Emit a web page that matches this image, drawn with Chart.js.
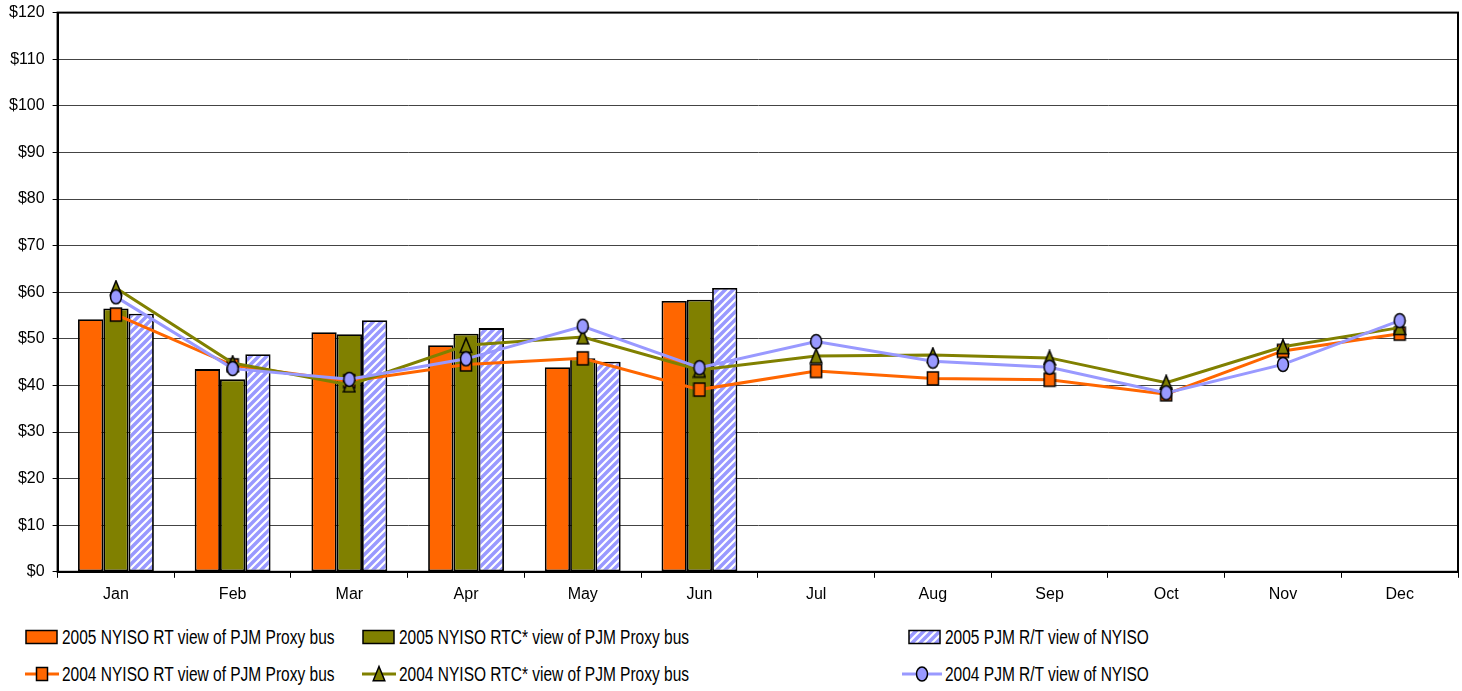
<!DOCTYPE html>
<html>
<head>
<meta charset="utf-8">
<script src="https://cdn.jsdelivr.net/npm/chart.js@4.4.0/dist/chart.umd.min.js"></script>
<style>
  body { margin: 0; background: #fff; font-family: "Liberation Sans", Arial, sans-serif; }
  #wrap { position: relative; width: 1462px; height: 691px; overflow: hidden; }
  #chart { position: absolute; left: 0; top: -5px; }
  .leg { position: absolute; height: 20px; display: flex; align-items: center; white-space: nowrap; font-size: 15.5px; color: #000; }
  .leg svg { margin-right: 3px; flex: none; }
  .leg span { display: inline-block; transform: scaleY(1.35); }
</style>
</head>
<body>
<div id="wrap">
  <canvas id="chart" width="1468" height="616"></canvas>
  <div id="legend"></div>
</div>
<script>
// Donnees ($/MWh)
const months = ['Jan', 'Feb', 'Mar', 'Apr', 'May', 'Jun', 'Jul', 'Aug', 'Sep', 'Oct', 'Nov', 'Dec'];
const yTicks = [0, 10, 20, 30, 40, 50, 60, 70, 80, 90, 100, 110, 120];

const rt2005  = [54.2, 43.5, 51.4, 48.6, 43.9, 58.1];
const rtc2005 = [56.5, 41.3, 51.0, 51.1, 45.8, 58.4];
const pjm2005 = [55.4, 46.7, 54.0, 52.3, 45.1, 60.9];

const rt2004  = [55.2, 44.3, 40.9, 44.5, 45.8, 39.1, 43.1, 41.5, 41.2, 38.1, 47.4, 51.1];
const rtc2004 = [60.9, 44.8, 40.1, 48.6, 50.4, 43.3, 46.3, 46.5, 45.9, 40.6, 48.3, 52.4];
const pjm2004 = [59.0, 43.6, 41.3, 45.7, 52.7, 43.8, 49.4, 45.2, 43.9, 38.4, 44.5, 53.9];

const ORANGE = '#FF6600';
const OLIVE = '#808000';
const BLUE = '#9999FF';

// Motif hachure pour les barres PJM
function makeHatch() {
    const c = document.createElement('canvas');
    c.width = 8; c.height = 8;
    const g = c.getContext('2d');
    g.fillStyle = BLUE;
    g.fillRect(0, 0, 8, 8);
    g.strokeStyle = '#fff';
    g.lineWidth = 2.2;
    g.beginPath();
    g.moveTo(-1, 9); g.lineTo(9, -1);
    g.moveTo(-1, 1); g.lineTo(1, -1);
    g.moveTo(7, 9); g.lineTo(9, 7);
    g.stroke();
    return g.createPattern(c, 'repeat');
}

// Marqueurs (un peu plus hauts que larges, comme sur l'original)
function makeMarker(shape, fill) {
    const c = document.createElement('canvas');
    c.width = 14; c.height = 17;
    const g = c.getContext('2d');
    g.fillStyle = fill;
    g.strokeStyle = '#000';
    g.lineWidth = 1.5;
    g.beginPath();
    if (shape === 'rect') {
        g.rect(1.5, 2, 11, 13);
    } else if (shape === 'tri') {
        g.moveTo(7, 1.2); g.lineTo(12.8, 15.5); g.lineTo(1.2, 15.5); g.closePath();
    } else {
        g.ellipse(7, 8.5, 5.5, 7, 0, 0, Math.PI * 2);
    }
    g.fill();
    g.stroke();
    return c;
}

const framePlugin = {
    id: 'frame',
    beforeDatasetsDraw(chart) {
        const a = chart.chartArea;
        const ctx = chart.ctx;
        ctx.save();
        ctx.strokeStyle = '#000';
        ctx.lineWidth = 2;
        ctx.strokeRect(a.left, a.top, a.right - a.left, a.bottom - a.top);
        ctx.restore();
    }
};

const hatch = makeHatch();

function barSet(label, data, bg) {
    return { type: 'bar', label, data, backgroundColor: bg, borderColor: '#000', borderWidth: 1.8, borderSkipped: false, order: 10 };
}
function lineSet(label, data, color, marker, order) {
    return {
        type: 'line', label, data, borderColor: color, backgroundColor: color, borderWidth: 3,
        pointStyle: marker, pointRadius: 7, tension: 0, order
    };
}

new Chart(document.getElementById('chart').getContext('2d'), {
    data: {
        labels: months,
        datasets: [
            barSet('2005 NYISO RT view of PJM Proxy bus', rt2005, ORANGE),
            barSet('2005 NYISO RTC* view of PJM Proxy bus', rtc2005, OLIVE),
            barSet('2005 PJM R/T view of NYISO', pjm2005, hatch),
            lineSet('2004 NYISO RT view of PJM Proxy bus', rt2004, ORANGE, makeMarker('rect', ORANGE), 3),
            lineSet('2004 NYISO RTC* view of PJM Proxy bus', rtc2004, OLIVE, makeMarker('tri', OLIVE), 2),
            lineSet('2004 PJM R/T view of NYISO', pjm2004, BLUE, makeMarker('circle', BLUE), 1)
        ]
    },
    options: {
        responsive: false,
        animation: false,
        layout: { padding: { top: 6, left: 1, right: 0, bottom: 0 } },
        datasets: { bar: { categoryPercentage: 0.65, barPercentage: 1 } },
        plugins: { legend: { display: false }, tooltip: { enabled: false } },
        scales: {
            x: {
                offset: true,
                grid: { offset: true, drawOnChartArea: false, drawTicks: true, tickLength: 6, tickColor: '#000' },
                border: { color: '#000', width: 2 },
                ticks: { color: '#000', padding: 7, font: { family: 'Liberation Sans', size: 16 } }
            },
            y: {
                min: 0, max: 120,
                afterBuildTicks(axis) { axis.ticks = yTicks.map(v => ({ value: v })); },
                grid: { color: '#444', lineWidth: 1, tickLength: 5, tickColor: '#000' },
                border: { color: '#000', width: 2 },
                ticks: { color: '#000', padding: 8, font: { family: 'Liberation Sans', size: 16 }, callback: v => '$' + v }
            }
        }
    },
    plugins: [framePlugin]
});

// Legende HTML sur deux lignes, trois colonnes
const legendItems = [
    { text: '2005 NYISO RT view of PJM Proxy bus', kind: 'bar', fill: ORANGE, x: 25, y: 627 },
    { text: '2005 NYISO RTC* view of PJM Proxy bus', kind: 'bar', fill: OLIVE, x: 362, y: 627 },
    { text: '2005 PJM R/T view of NYISO', kind: 'hatch', fill: BLUE, x: 908, y: 627 },
    { text: '2004 NYISO RT view of PJM Proxy bus', kind: 'rect', fill: ORANGE, x: 25, y: 664 },
    { text: '2004 NYISO RTC* view of PJM Proxy bus', kind: 'tri', fill: OLIVE, x: 362, y: 664 },
    { text: '2004 PJM R/T view of NYISO', kind: 'circle', fill: BLUE, x: 902, y: 664 }
];

function swatchSvg(item) {
    const w = item.kind === 'circle' ? 40 : 34;
    let inner = '';
    if (item.kind === 'bar') {
        inner = `<rect x="1" y="3.5" width="31" height="13" fill="${item.fill}" stroke="#000" stroke-width="1.5"/>`;
    } else if (item.kind === 'hatch') {
        inner = `<defs><pattern id="hp" width="8" height="8" patternUnits="userSpaceOnUse">
            <rect width="8" height="8" fill="${BLUE}"/>
            <path d="M-1,9 L9,-1 M-1,1 L1,-1 M7,9 L9,7" stroke="#fff" stroke-width="2.2"/></pattern></defs>
            <rect x="1" y="3.5" width="31" height="13" fill="url(#hp)" stroke="#000" stroke-width="1.5"/>`;
    } else {
        const cx = w / 2;
        inner = `<line x1="0" y1="10" x2="${w}" y2="10" stroke="${item.fill}" stroke-width="3"/>`;
        if (item.kind === 'rect') {
            inner += `<rect x="${cx - 5.5}" y="3.5" width="11" height="13" fill="${item.fill}" stroke="#000" stroke-width="1.5"/>`;
        } else if (item.kind === 'tri') {
            inner += `<path d="M${cx},2.5 L${cx + 5.8},16.8 L${cx - 5.8},16.8 Z" fill="${item.fill}" stroke="#000" stroke-width="1.5"/>`;
        } else {
            inner += `<ellipse cx="${cx}" cy="10" rx="5.5" ry="7" fill="${item.fill}" stroke="#000" stroke-width="1.5"/>`;
        }
    }
    return `<svg width="${w}" height="20" viewBox="0 0 ${w} 20">${inner}</svg>`;
}

const legendBox = document.getElementById('legend');
legendItems.forEach(item => {
    const div = document.createElement('div');
    div.className = 'leg';
    div.style.left = item.x + 'px';
    div.style.top = item.y + 'px';
    div.innerHTML = swatchSvg(item) + '<span></span>';
    div.querySelector('span').textContent = item.text;
    legendBox.appendChild(div);
});
</script>
</body>
</html>
